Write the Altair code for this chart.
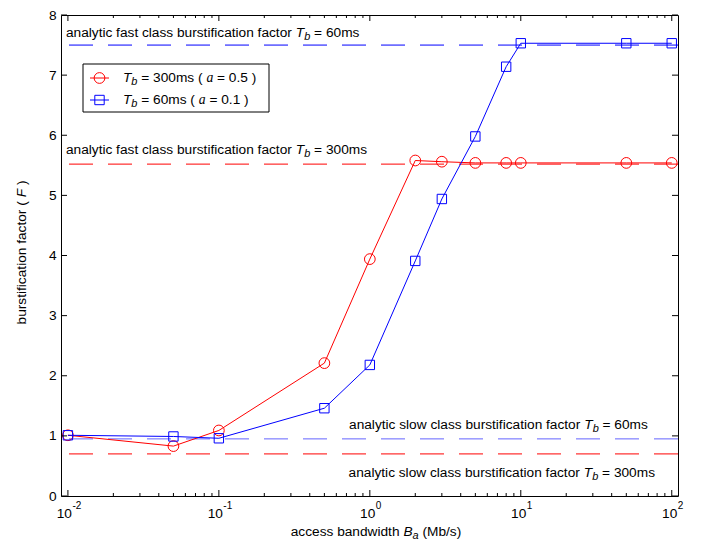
import altair as alt
import pandas as pd

# ---------------- data ----------------
bandwidth = [0.01, 0.05, 0.1, 0.5, 1, 2, 3, 5, 8, 10, 50, 100]
f_tb300 = [1.01, 0.83, 1.09, 2.21, 3.94, 5.58, 5.56, 5.54, 5.54, 5.54, 5.54, 5.54]
f_tb60 = [1.01, 0.99, 0.96, 1.46, 2.18, 3.91, 4.94, 5.98, 7.14, 7.53, 7.53, 7.53]

analytic_series = ["fast60", "fast300", "slow60", "slow300"]
analytic_levels = [7.50, 5.52, 0.95, 0.70]
analytic_colors = ["#0000ff", "#ff0000", "#6464ff", "#ff0000"]

x_major = [0.01, 0.1, 1, 10, 100]
x_exponent = ["-2", "-1", "0", "1", "2"]
x_minor_mult = [2, 3, 4, 5, 6, 7, 8, 9]
y_ticks = [0, 1, 2, 3, 4, 5, 6, 7, 8]

# ---------------- layout ----------------
W, H = 617, 481
FS = 13.7
FONT = "Liberation Sans"

xs = alt.Scale(type="log", domain=[0.009, 110], nice=False)
ys = alt.Scale(domain=[0, 8], nice=False, zero=False)
yaxis = alt.Axis(values=y_ticks, ticks=False, domain=False, grid=False,
                 labelPadding=5, labelFontSize=FS, labelFont=FONT,
                 labelColor="black", title=None, labelFlush=False)


def X(f):
    return alt.X(f, type="quantitative", scale=xs, axis=None)


def Y(f):
    return alt.Y(f, type="quantitative", scale=ys, axis=yaxis)


ARIAL = {" ": 278, "a": 556, "b": 556, "c": 500, "d": 556, "e": 556, "f": 278,
         "g": 556, "h": 556, "i": 222, "j": 222, "k": 500, "l": 222, "m": 833,
         "n": 556, "o": 556, "p": 556, "q": 556, "r": 333, "s": 500, "t": 278,
         "u": 556, "v": 500, "w": 722, "x": 500, "y": 500, "z": 500,
         "=": 584, "(": 333, ")": 333, "/": 278, ".": 278, "-": 333,
         "T": 611, "B": 667, "F": 611, "M": 833}


def tw(s, size, serif=False):
    if serif:
        return len(s) * 500 * size / 1000.0
    return sum(ARIAL.get(c, 556) for c in s) * size / 1000.0


def rich(pieces, data, xe, ye, anchor="left", angle=0, base=FS):
    specs = []
    for txt, kind in pieces:
        size = base * 0.8 if kind == "sub" else base
        specs.append((txt, kind, size, tw(txt, size, kind == "serif")))
    total = sum(s[3] for s in specs)
    off = 0.0 if anchor == "left" else -total / 2.0
    out = []
    for txt, kind, size, w in specs:
        lead = len(txt) - len(txt.lstrip(" "))
        shown = txt.strip(" ")
        props = dict(align="left", baseline="middle", fontSize=size,
                     dx=off + tw(" " * lead, size), color="black",
                     dy=4 if kind == "sub" else 0,
                     font="Liberation Serif" if kind == "serif" else FONT,
                     fontStyle="italic" if kind in ("i", "sub", "serif") else "normal")
        if angle:
            props["angle"] = angle
        out.append(alt.Chart(data).mark_text(**props).encode(
            x=xe, y=ye, text=alt.value(shown)))
        off += w
    return out


one = pd.DataFrame({"k": [0]})
layers = []

# analytic dashed levels
adf = pd.DataFrame({"series": analytic_series, "level": analytic_levels})
layers.append(alt.Chart(adf).mark_rule(strokeDash=[24, 15], strokeWidth=1).encode(
    y=Y("level"),
    color=alt.Color("series:N", scale=alt.Scale(domain=analytic_series, range=analytic_colors),
                    legend=None)))

# simulated curves
df = pd.DataFrame({"bw": bandwidth, "f300": f_tb300, "f60": f_tb60})
layers.append(alt.Chart(df).mark_line(color="#ff0000", strokeWidth=1).encode(x=X("bw"), y=Y("f300")))
layers.append(alt.Chart(df).mark_point(shape="circle", size=115, color="#ff0000", filled=False,
                                       strokeWidth=1, opacity=1).encode(x=X("bw"), y=Y("f300")))
layers.append(alt.Chart(df).mark_line(color="#0000ff", strokeWidth=1).encode(x=X("bw"), y=Y("f60")))
layers.append(alt.Chart(df).mark_point(shape="square", size=88, color="#0000ff", filled=False,
                                       strokeWidth=1, opacity=1).encode(x=X("bw"), y=Y("f60")))

# inward ticks
ydf = pd.DataFrame({"v": y_ticks})
layers.append(alt.Chart(ydf).mark_rule(color="black").encode(y=Y("v"), x=alt.value(0), x2=alt.value(6)))
layers.append(alt.Chart(ydf).mark_rule(color="black").encode(y=Y("v"), x=alt.value(W - 6), x2=alt.value(W)))
xmaj = pd.DataFrame({"v": x_major, "e": x_exponent})
xmin_vals = [m * v for v in x_major[:-1] for m in x_minor_mult]
xmin = pd.DataFrame({"v": xmin_vals})
layers.append(alt.Chart(xmaj).mark_rule(color="black").encode(x=X("v"), y=alt.value(H), y2=alt.value(H - 6)))
layers.append(alt.Chart(xmaj).mark_rule(color="black").encode(x=X("v"), y=alt.value(0), y2=alt.value(6)))
layers.append(alt.Chart(xmin).mark_rule(color="black").encode(x=X("v"), y=alt.value(H), y2=alt.value(H - 3)))
layers.append(alt.Chart(xmin).mark_rule(color="black").encode(x=X("v"), y=alt.value(0), y2=alt.value(3)))

# x tick labels 10^n
neg = xmaj[xmaj["e"].str.startswith("-")]
pos = xmaj[~xmaj["e"].str.startswith("-")]
for part, d in ((neg, 4), (pos, 5.5)):
    layers.append(alt.Chart(part).mark_text(align="right", baseline="middle", dx=d, fontSize=FS,
                                            font=FONT, color="black").encode(
        x=X("v"), y=alt.value(H + 18), text=alt.value("10")))
    layers.append(alt.Chart(part).mark_text(align="left", baseline="middle", dx=d + 0.5, fontSize=10,
                                            font=FONT, color="black").encode(
        x=X("v"), y=alt.value(H + 10), text="e:N"))

# annotations
ann = [
    ("fast", "60ms", 0.0097, 7.70),
    ("fast", "300ms", 0.0097, 5.76),
    ("slow", "60ms", 0.728, 1.18),
    ("slow", "300ms", 0.723, 0.39),
]
for cls, tb, ax, ay in ann:
    d = pd.DataFrame({"x": [ax], "y": [ay]})
    layers += rich([("analytic %s class burstification factor " % cls, "n"), ("T", "i"), ("b", "sub"),
                    (" = " + tb, "n")], d, X("x"), Y("y"))

# legend
layers.append(alt.Chart(one).mark_rect(fill="white", stroke="black", strokeWidth=1).encode(
    x=alt.value(22), x2=alt.value(208), y=alt.value(49), y2=alt.value(97)))
leg = [(63, "#ff0000", "circle", 115, "300ms", "0.5"), (85, "#0000ff", "square", 88, "60ms", "0.1")]
for ry, col, shp, sz, tb, a in leg:
    layers.append(alt.Chart(one).mark_rule(color=col, strokeWidth=1).encode(
        x=alt.value(29), x2=alt.value(48), y=alt.value(ry)))
    layers.append(alt.Chart(one).mark_point(shape=shp, size=sz, color=col, filled=False,
                                            strokeWidth=1, opacity=1).encode(
        x=alt.value(38.5), y=alt.value(ry)))
    layers += rich([("T", "i"), ("b", "sub"), (" = %s ( " % tb, "n"), ("a", "serif"),
                    (" = %s )" % a, "n")], one, alt.value(62), alt.value(ry))

# axis titles
layers += rich([("access bandwidth ", "n"), ("B", "i"), ("a", "sub"), (" (Mb/s)", "n")],
               one, alt.value(315), alt.value(H + 36), anchor="center")
layers += rich([("burstification factor ( ", "n"), ("F", "i"), (" )", "n")],
               one, alt.value(-39), alt.value(H / 2 - 3), anchor="center", angle=270)

chart = alt.layer(*layers).properties(
    width=W, height=H, autosize="none",
    padding={"left": 53, "top": 7, "right": 20, "bottom": 46},
    background="white",
).configure_view(stroke="black", strokeWidth=1)

chart.save("out.html", embed_options={"renderer": "svg", "actions": False})
